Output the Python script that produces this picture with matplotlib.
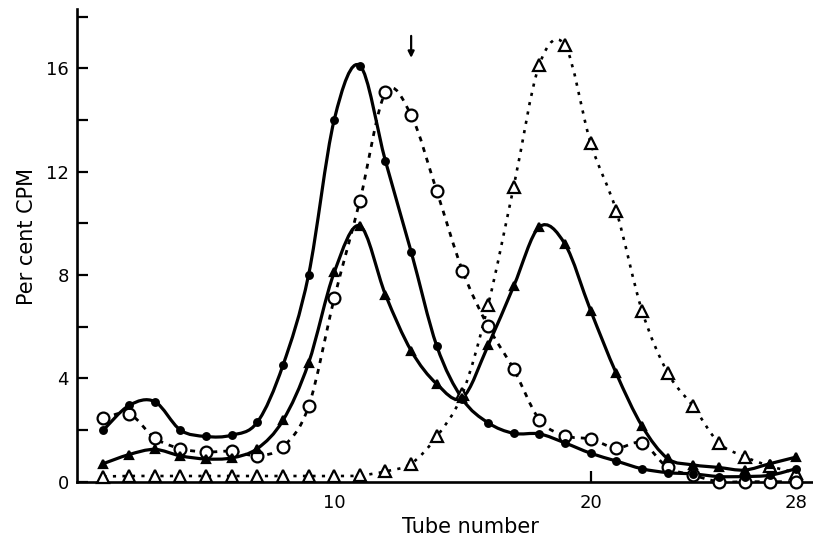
import numpy as np
import matplotlib
matplotlib.use('Agg')
import matplotlib.pyplot as plt
from matplotlib.path import Path
from matplotlib.patches import PathPatch

# Per cent CPM per tube
tubes = list(range(1, 29))

filled_circles = [2.0, 2.95, 3.1, 2.0, 1.75, 1.8, 2.3, 4.5, 8.0, 14.0,
                  16.1, 12.4, 8.9, 5.25, 3.2, 2.28, 1.87, 1.85, 1.5, 1.1,
                  0.8, 0.5, 0.35, 0.3, 0.2, 0.2, 0.25, 0.5]
filled_triangles = [0.7, 1.05, 1.25, 1.0, 0.88, 0.92, 1.28, 2.37, 4.59, 8.1,
                    9.9, 7.23, 5.07, 3.78, 3.25, 5.27, 7.57, 9.86, 9.19, 6.62,
                    4.19, 2.16, 0.9, 0.65, 0.55, 0.45, 0.7, 0.95]
open_circles = [2.45, 2.63, 1.69, 1.28, 1.15, 1.18, 1.01, 1.35, 2.91, 7.09,
                10.87, 15.06, 14.18, 11.24, 8.17, 6.01, 4.35, 2.4, 1.78, 1.65,
                1.3, 1.5, 0.55, 0.25, 0.0, 0.0, 0.0, 0.0]
open_triangles = [0.2, 0.22, 0.22, 0.22, 0.22, 0.22, 0.22, 0.22, 0.22, 0.22,
                  0.24, 0.4, 0.7, 1.75, 3.4, 6.83, 11.42, 16.14, 16.88, 13.1,
                  10.47, 6.62, 4.22, 2.91, 1.5, 0.97, 0.6, 0.35]

arrow_tube = 13

x_ticks = [10, 20, 28]
y_major = [0, 4, 8, 12, 16]
y_minor = [2, 6, 10, 14, 18]


def smooth_path(x, y):
    # Catmull-Rom through the points, written as cubic Bezier segments
    pts = np.column_stack([np.asarray(x, float), np.asarray(y, float)])
    ext = np.vstack([pts[0], pts, pts[-1]])
    verts = [pts[0]]
    codes = [Path.MOVETO]
    for i in range(len(pts) - 1):
        p0, p1, p2, p3 = ext[i], ext[i + 1], ext[i + 2], ext[i + 3]
        verts += [p1 + (p2 - p0) / 6, p2 - (p3 - p1) / 6, p2]
        codes += [Path.CURVE4] * 3
    return Path(verts, codes)


fig = plt.figure(figsize=(8.13, 5.49), dpi=100)
fig.patch.set_facecolor('white')
ax = fig.add_axes([0.0947, 0.1226, 0.9053, 0.8605])

series = [
    (open_triangles, '^', 'white', 8, (0, (1.2, 2.4)), 1.9),
    (open_circles, 'o', 'white', 8.5, (0, (1.8, 2.2)), 2.0),
    (filled_triangles, '^', 'black', 5.5, '-', 2.3),
    (filled_circles, 'o', 'black', 4.8, '-', 2.3),
]

for vals, mk, face, ms, ls, lw in series:
    patch = PathPatch(smooth_path(tubes, vals), facecolor='none', edgecolor='black',
                      lw=lw, linestyle=ls, capstyle='butt', zorder=2)
    ax.add_patch(patch)
    ax.plot(tubes, vals, linestyle='none', marker=mk, markersize=ms,
            markerfacecolor=face, markeredgecolor='black', markeredgewidth=1.6,
            clip_on=False, zorder=3)

# arrow marking tube 13
ax.annotate('', xy=(arrow_tube, 16.4), xytext=(arrow_tube, 17.25),
            arrowprops=dict(arrowstyle='-|>', color='black', lw=1.6, mutation_scale=9,
                            shrinkA=0, shrinkB=0))

ax.set_xlim(-0.03, 28.67)
ax.set_ylim(0, 18.28)

for side in ['top', 'right']:
    ax.spines[side].set_visible(False)
for side in ['left', 'bottom']:
    ax.spines[side].set_linewidth(1.9)

ax.set_xticks(x_ticks)
ax.set_xticklabels([str(t) for t in x_ticks])
ax.set_yticks(y_major)
ax.set_yticklabels([str(t) for t in y_major])
ax.set_yticks(y_minor, minor=True)
ax.tick_params(axis='both', which='both', direction='in', length=8, width=1.6,
               labelsize=13, colors='black', pad=6)
ax.tick_params(axis='x', which='major', pad=9)

ax.set_xlabel('Tube number', fontsize=15)
ax.set_ylabel('Per cent CPM', fontsize=15)
ax.xaxis.set_label_coords(0.534, -0.075)
ax.yaxis.set_label_coords(-0.055, 0.52)

fig.savefig('out.png', dpi=100, facecolor='white')
